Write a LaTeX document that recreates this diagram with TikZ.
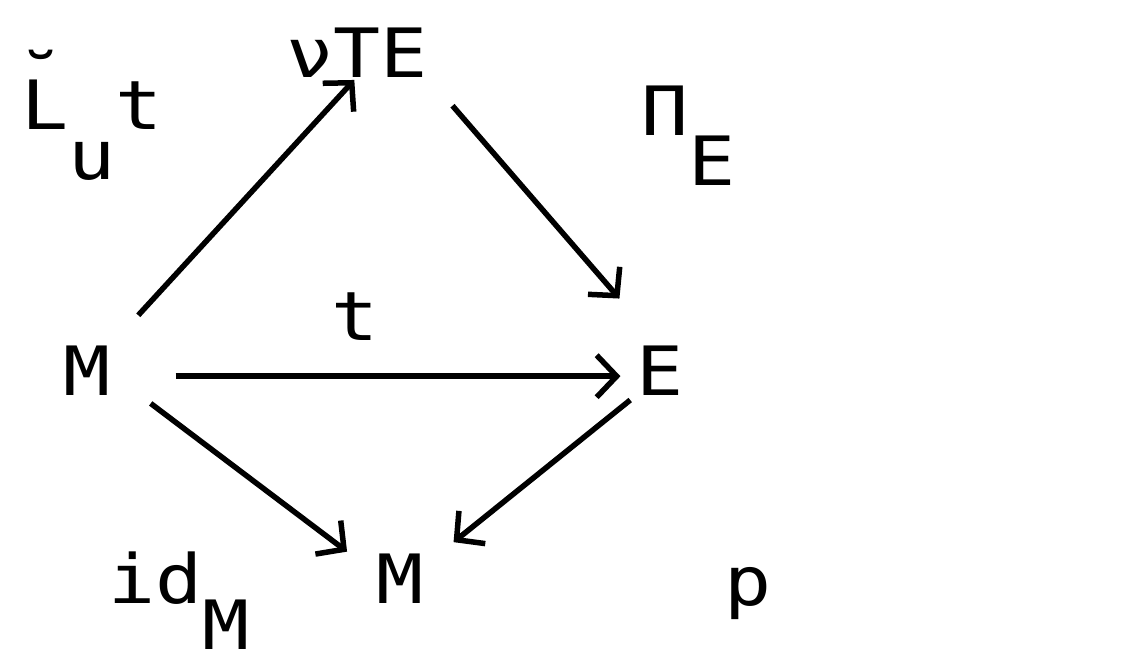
\documentclass[tikz,border=0pt]{standalone}
\usepackage{fontspec}
\setmonofont[FakeStretch=1.15]{DejaVu Sans Mono}
\usetikzlibrary{arrows.meta}
\begin{document}
\begin{tikzpicture}[x=1pt,y=-1pt,
  every node/.style={font=\ttfamily\fontsize{68}{80}\selectfont,inner sep=0pt,outer sep=0pt},
  obj/.style={anchor=base},
  lbl/.style={anchor=base west},
  arr/.style={line width=5.5pt,-{Straight Barb[length=20pt,width=42pt,line width=5.5pt]}}]
\useasboundingbox (0,0) rectangle (1146,659);
% objects
\node[obj] (nte) at (357,77) {\symbol{"03BD}TE};
\node[obj] (Ml) at (87,395) {M};
\node[obj] (Er) at (660,395) {E};
\node[obj] (Mb) at (400,603) {M};
% labels
\node[lbl] (lLut) at (21,129) {\makebox[0pt][l]{\hspace{-4pt}\raisebox{26pt}{\symbol{"02D8}}}L\raisebox{-50pt}{u}t};
\node[lbl] (lpi) at (641,135) {\symbol{"03A0}\raisebox{-50pt}{E}};
\node[obj] (lt) at (355,340) {t};
\node[lbl] (lid) at (108,603) {id\raisebox{-46pt}{M}};
\node[obj] (lp) at (748,605) {p};
% arrows
\draw[arr,shorten <=41pt,shorten >=4pt] (Ml.north east) -- (nte.south);
\draw[arr,shorten <=38pt,shorten >=62pt] (nte.south east) -- (Er.north);
\draw[arr,shorten <=65pt,shorten >=16pt] ([yshift=-6pt]Ml.east) -- ([yshift=-6pt]Er.west);
\draw[arr,shorten <=14pt,shorten >=3pt] ([xshift=29pt]Ml.south east) -- ([xshift=-27pt]Mb.north west);
\draw[arr,shorten <=8pt,shorten >=18pt] (Er.south west) -- ([xshift=16pt]Mb.north east);
\end{tikzpicture}
\end{document}
